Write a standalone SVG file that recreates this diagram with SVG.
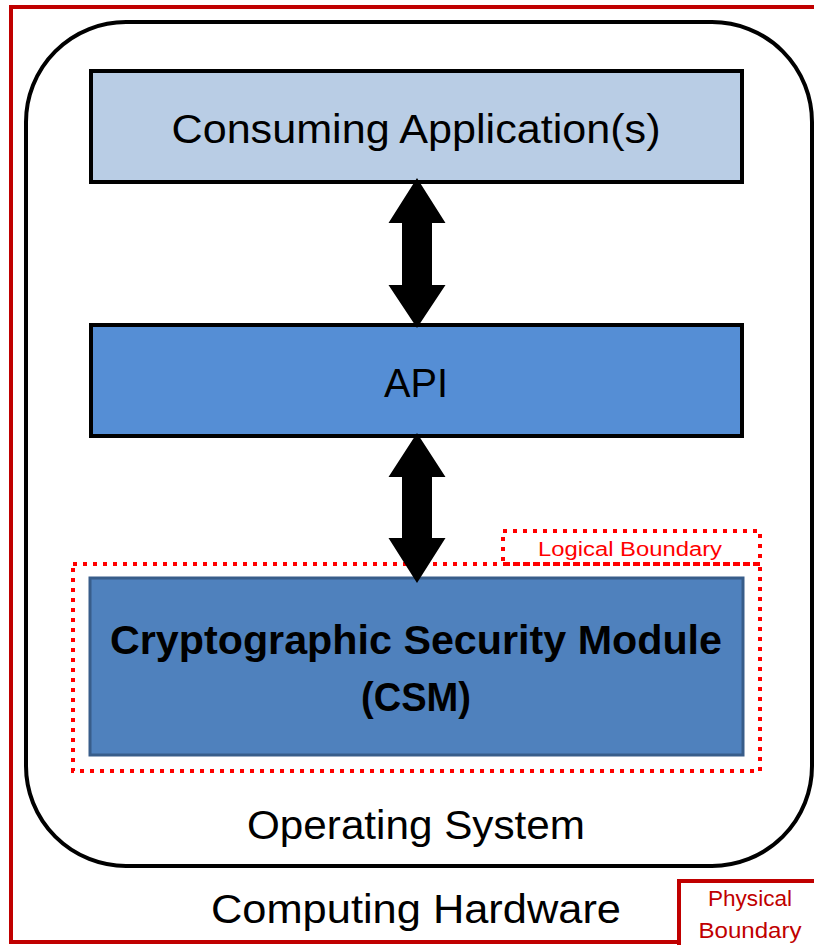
<svg xmlns="http://www.w3.org/2000/svg" width="814" height="945" viewBox="0 0 814 945">
<style>
text{font-family:"Liberation Sans","Open Sans",Arial,sans-serif;text-anchor:middle}
.big{font-size:40px;fill:#000}
.red{fill:#c00000;font-size:22px}
.dot{fill:none;stroke:#ff0000;stroke-width:4;stroke-dasharray:4 6}
.box{stroke:#000;stroke-width:4}
</style>
<rect width="814" height="945" fill="#fff"/>
<g id="hardware">
<rect x="11" y="7" width="820" height="935" fill="none" stroke="#c00000" stroke-width="4"/>
<text class="big" x="416" y="923" textLength="410" lengthAdjust="spacingAndGlyphs">Computing Hardware</text>
</g>
<g id="physical-boundary">
<rect x="679" y="881" width="150" height="70" fill="#fff" stroke="#c00000" stroke-width="4"/>
<text class="red" x="750" y="906" textLength="84" lengthAdjust="spacingAndGlyphs">Physical</text>
<text class="red" x="750" y="938" textLength="103" lengthAdjust="spacingAndGlyphs">Boundary</text>
</g>
<g id="os">
<rect x="26" y="22" width="786" height="844" rx="100" ry="100" fill="#fff" stroke="#000" stroke-width="4"/>
<text class="big" x="416" y="839" textLength="338" lengthAdjust="spacingAndGlyphs">Operating System</text>
</g>
<g id="consuming">
<rect class="box" x="91" y="71" width="651" height="111" fill="#b9cde5"/>
<text class="big" x="416" y="143" textLength="489" lengthAdjust="spacingAndGlyphs">Consuming Application(s)</text>
</g>
<g id="api">
<rect class="box" x="91" y="325" width="651" height="111" fill="#558ed5"/>
<text class="big" x="416" y="397" textLength="64" lengthAdjust="spacingAndGlyphs">API</text>
</g>
<g id="logical-boundary">
<rect class="dot" x="73" y="564" width="687" height="207"/>
<rect class="dot" x="503" y="531" width="257" height="33"/>
<text x="630" y="556" fill="#ff0000" font-size="20" textLength="184" lengthAdjust="spacingAndGlyphs">Logical Boundary</text>
</g>
<g id="csm">
<rect x="90" y="578" width="653" height="177" fill="#4f81bd" stroke="#385d8a" stroke-width="3"/>
<text class="big" x="416" y="654" font-weight="bold" textLength="612" lengthAdjust="spacingAndGlyphs">Cryptographic Security Module</text>
<text class="big" x="416" y="711" font-weight="bold" textLength="110" lengthAdjust="spacingAndGlyphs">(CSM)</text>
</g>
<g id="connectors" fill="#000">
<polygon points="417,178 445.5,223 432,223 432,285 445.5,285 417,328 388.5,285 402,285 402,223 388.5,223"/>
<polygon points="417,433 445.5,477 432,477 432,538 445.5,538 417,583 388.5,538 402,538 402,477 388.5,477"/>
</g>
</svg>
